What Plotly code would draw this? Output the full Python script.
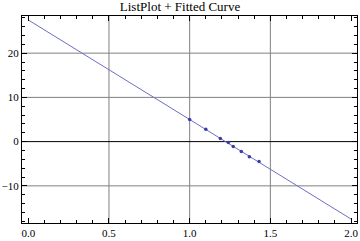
import plotly.graph_objects as go

# data points
pts_x = [1.00, 1.10, 1.19, 1.24, 1.27, 1.32, 1.37, 1.43]
pts_y = [5.0, 2.8, 0.7, -0.2, -1.1, -2.25, -3.4, -4.5]
# fitted line endpoints
fit_x = [0.0, 2.0]
fit_y = [27.5, -17.5]
x_ticks = [0.0, 0.5, 1.0, 1.5, 2.0]
x_ticklabels = ["0.0", "0.5", "1.0", "1.5", "2.0"]
y_ticks = [-10, 0, 10, 20]
x_grid = [0.5, 1.0, 1.5]
y_grid = [-10, 10, 20]
title = "ListPlot + Fitted Curve"

font = "Liberation Serif"
fig = go.Figure()
fig.add_trace(go.Scatter(x=fit_x, y=fit_y, mode="lines",
                         line=dict(color="#6e6ec4", width=1), hoverinfo="skip"))
fig.add_trace(go.Scatter(x=pts_x, y=pts_y, mode="markers",
                         marker=dict(color="#3c3ca8", size=3.5)))

shapes = []
for gx in x_grid:
    shapes.append(dict(type="line", xref="x", yref="paper", x0=gx, x1=gx, y0=0, y1=1,
                       line=dict(color="#808080", width=1), layer="below"))
for gy in y_grid:
    shapes.append(dict(type="line", xref="paper", yref="y", x0=0, x1=1, y0=gy, y1=gy,
                       line=dict(color="#808080", width=1), layer="below"))
shapes.append(dict(type="line", xref="paper", yref="y", x0=0, x1=1, y0=0, y1=0,
                   line=dict(color="black", width=1), layer="below"))

axis_common = dict(showgrid=False, zeroline=False, showline=True, linecolor="black",
                   linewidth=1, mirror="allticks", ticks="inside", tickcolor="black",
                   ticklen=5, tickwidth=1,
                   tickfont=dict(family=font, size=11, color="black"))
fig.update_layout(
    width=360, height=241,
    margin=dict(l=21, r=2, t=16, b=17),
    paper_bgcolor="white", plot_bgcolor="white",
    showlegend=False,
    shapes=shapes,
    title=dict(text=title, x=0.5, xanchor="center", y=1, yref="container", yanchor="top",
               pad=dict(t=2), font=dict(family=font, size=13, color="black")),
    xaxis=dict(range=[-0.039, 2.037], tickvals=x_ticks, ticktext=x_ticklabels,
               minor=dict(dtick=0.1, tick0=0, ticks="inside", ticklen=3, tickcolor="black"),
               **axis_common),
    yaxis=dict(range=[-18.4, 28.4], tickvals=y_ticks,
               minor=dict(dtick=2, tick0=0, ticks="inside", ticklen=3, tickcolor="black"),
               **axis_common),
)
fig.write_html("out.html")
